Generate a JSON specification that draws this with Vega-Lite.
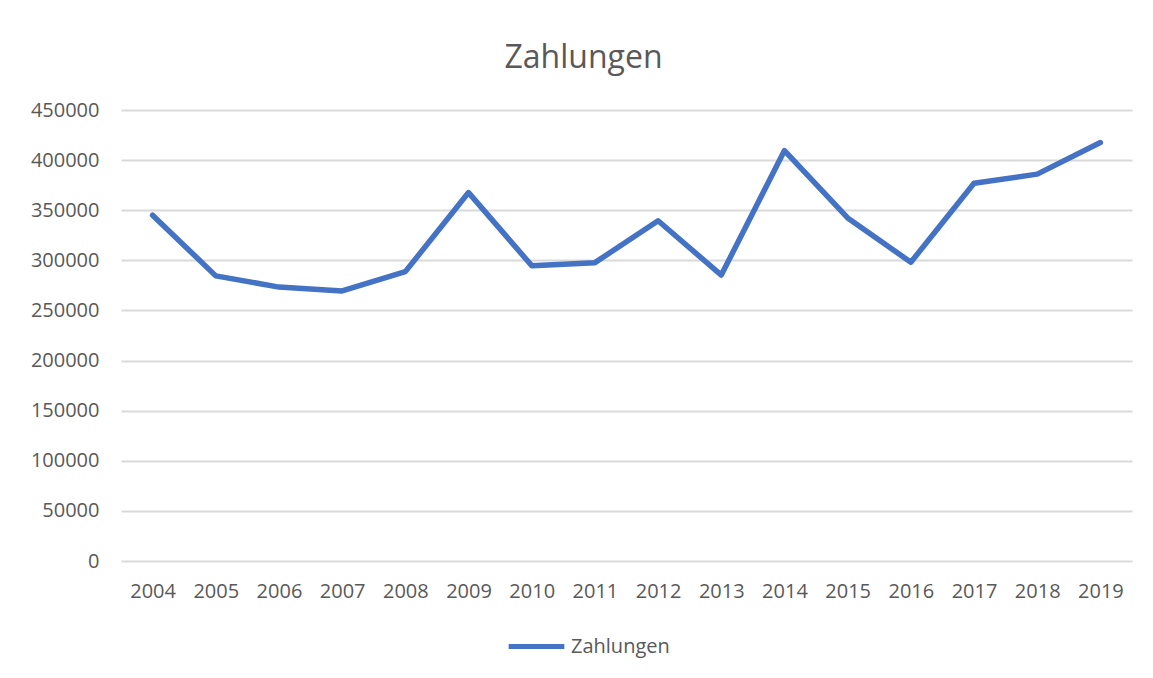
{
  "$schema": "https://vega.github.io/schema/vega-lite/v6.json",
  "width": 1011,
  "height": 451,
  "autosize": {"type": "none"},
  "padding": {"left": 121, "top": 110, "right": 21, "bottom": 117},
  "background": "white",
  "title": {"text": "Zahlungen", "font": "Open Sans", "fontSize": 32, "fontWeight": "normal", "color": "#595959", "offset": 25, "dx": -43},
  "data": {"values": [
    {"Jahr": "2004", "Wert": 345000, "Serie": "Zahlungen"},
    {"Jahr": "2005", "Wert": 284500, "Serie": "Zahlungen"},
    {"Jahr": "2006", "Wert": 273300, "Serie": "Zahlungen"},
    {"Jahr": "2007", "Wert": 269500, "Serie": "Zahlungen"},
    {"Jahr": "2008", "Wert": 288700, "Serie": "Zahlungen"},
    {"Jahr": "2009", "Wert": 367600, "Serie": "Zahlungen"},
    {"Jahr": "2010", "Wert": 294700, "Serie": "Zahlungen"},
    {"Jahr": "2011", "Wert": 297700, "Serie": "Zahlungen"},
    {"Jahr": "2012", "Wert": 339500, "Serie": "Zahlungen"},
    {"Jahr": "2013", "Wert": 285300, "Serie": "Zahlungen"},
    {"Jahr": "2014", "Wert": 409500, "Serie": "Zahlungen"},
    {"Jahr": "2015", "Wert": 342300, "Serie": "Zahlungen"},
    {"Jahr": "2016", "Wert": 298100, "Serie": "Zahlungen"},
    {"Jahr": "2017", "Wert": 376900, "Serie": "Zahlungen"},
    {"Jahr": "2018", "Wert": 386000, "Serie": "Zahlungen"},
    {"Jahr": "2019", "Wert": 417500, "Serie": "Zahlungen"}
  ]},
  "mark": {"type": "line", "strokeWidth": 5.5, "strokeCap": "round", "strokeJoin": "round"},
  "encoding": {
    "x": {
      "field": "Jahr", "type": "ordinal",
      "scale": {"type": "point", "padding": 0.5},
      "axis": {"title": null, "ticks": false, "domain": false, "grid": false, "labelAngle": 0, "labelFont": "Open Sans", "labelFontSize": 20, "labelColor": "#595959", "labelPadding": 20}
    },
    "y": {
      "field": "Wert", "type": "quantitative",
      "scale": {"domain": [0, 450000], "nice": false, "zero": true},
      "axis": {"title": null, "values": [0, 50000, 100000, 150000, 200000, 250000, 300000, 350000, 400000, 450000], "format": "d", "ticks": false, "domain": false, "labelFont": "Open Sans", "labelFontSize": 20, "labelColor": "#595959", "labelPadding": 22, "gridColor": "#d9d9d9", "gridWidth": 2, "gridOpacity": 1}
    },
    "color": {
      "field": "Serie", "type": "nominal",
      "scale": {"range": ["#4472C4"]},
      "legend": {"title": null, "orient": "none", "legendX": 385, "legendY": 506, "symbolType": "stroke", "symbolSize": 3100, "symbolStrokeWidth": 5, "labelFont": "Open Sans", "labelFontSize": 20, "labelColor": "#595959", "labelOffset": 4}
    }
  },
  "config": {"view": {"stroke": null}}
}
